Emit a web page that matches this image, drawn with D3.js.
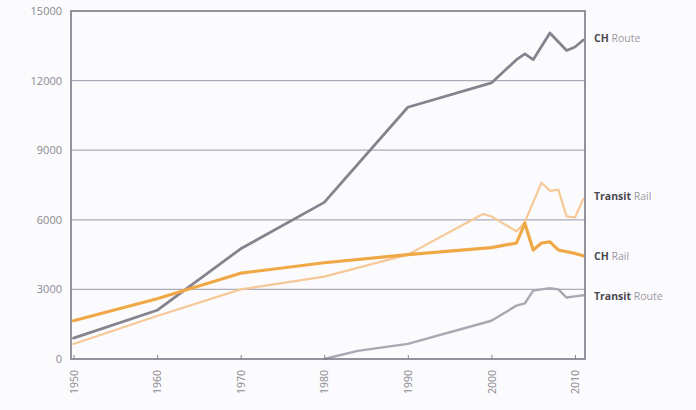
<!DOCTYPE html>
<html><head><meta charset="utf-8">
<script src="https://cdn.jsdelivr.net/npm/d3@7"></script>
<style>body{margin:0;background:#fbfbfd;}svg{display:block;}</style>
</head><body><svg id="c" width="696" height="410"></svg>
<script>
const yTicks = [0, 3000, 6000, 9000, 12000, 15000];
const xTicks = [1950, 1960, 1970, 1980, 1990, 2000, 2010];

const chRouteYears = [1950, 1960, 1970, 1980, 1990, 2000, 2003, 2004, 2005, 2007, 2009, 2010, 2011];
const chRouteVals  = [900, 2100, 4750, 6750, 10850, 11900, 12900, 13150, 12900, 14050, 13300, 13450, 13750];

const transitRouteYears = [1980, 1984, 1990, 2000, 2003, 2004, 2005, 2006, 2007, 2008, 2009, 2010, 2011];
const transitRouteVals  = [0, 350, 650, 1650, 2300, 2400, 2950, 3000, 3050, 3000, 2650, 2700, 2750];

const chRailYears = [1950, 1960, 1970, 1980, 1990, 2000, 2003, 2004, 2005, 2006, 2007, 2008, 2010, 2011];
const chRailVals  = [1650, 2600, 3700, 4150, 4500, 4800, 5000, 5850, 4700, 5000, 5050, 4700, 4550, 4450];

const transitRailYears = [1950, 1960, 1970, 1980, 1990, 1999, 2000, 2003, 2004, 2006, 2007, 2008, 2009, 2010, 2011];
const transitRailVals  = [650, 1850, 3000, 3550, 4500, 6250, 6150, 5500, 5900, 7600, 7250, 7300, 6150, 6100, 6900];

const seriesNames = [["CH", "Route"], ["Transit", "Rail"], ["CH", "Rail"], ["Transit", "Route"]];

const svg = d3.select("#c");
const L = 71, R = 585, T = 11, B = 359;
const x = d3.scaleLinear().domain([1949.7, 2011.2]).range([L, R]);
const y = d3.scaleLinear().domain([0, 15000]).range([B, T]);

// gridlines
svg.append("g").selectAll("line").data(yTicks.filter(d => d > 0 && d < 15000)).join("line")
  .attr("x1", L).attr("x2", R).attr("y1", d => y(d)).attr("y2", d => y(d))
  .attr("stroke", "#aeaab8").attr("stroke-width", 1.3);

// y axis labels
const yAxis = d3.axisLeft(y).tickValues(yTicks).tickSize(0).tickPadding(9).tickFormat(d3.format("d"));
const gy = svg.append("g").attr("transform", `translate(${L},0)`).call(yAxis);
gy.select(".domain").remove();
gy.selectAll("text").attr("fill", "#8a8790").style("font-family", "Open Sans, sans-serif").style("font-size", "11px");

// x axis
const xAxis = d3.axisBottom(x).tickValues(xTicks).tickSize(-4).tickFormat(d3.format("d")).tickPadding(0);
const gx = svg.append("g").attr("transform", `translate(0,${B})`).call(xAxis);
gx.select(".domain").remove();
gx.selectAll(".tick line").attr("stroke", "#8a8690");
gx.selectAll("text").attr("fill", "#8a8790").style("font-family", "Open Sans, sans-serif").style("font-size", "10.5px")
  .attr("transform", "rotate(-90)").attr("text-anchor", "end").attr("dy", "0.35em").attr("x", -11).attr("y", 0);

const line = d3.line().x(d => x(d[0])).y(d => y(d[1])).curve(d3.curveLinear);
const zip = (a, b) => a.map((v, i) => [v, b[i]]);

const series = [
  {d: zip(transitRailYears, transitRailVals), c: "#f6c898", w: 2.2},
  {d: zip(transitRouteYears, transitRouteVals), c: "#aaa7b2", w: 2.4},
  {d: zip(chRouteYears, chRouteVals), c: "#87838e", w: 2.8},
  {d: zip(chRailYears, chRailVals), c: "#f0a847", w: 3.2}
];
svg.append("g").selectAll("path").data(series).join("path")
  .attr("d", s => line(s.d)).attr("fill", "none")
  .attr("stroke", s => s.c).attr("stroke-width", s => s.w)
  .attr("stroke-linejoin", "round").attr("stroke-linecap", "round");

// frame
svg.append("rect").attr("x", L).attr("y", T).attr("width", R - L).attr("height", B - T)
  .attr("fill", "none").attr("stroke", "#7d7985").attr("stroke-width", 1.6);

// labels
const labelY = [38, 196, 256, 296];
const lg = svg.append("g").style("font-family", "Open Sans, sans-serif").style("font-size", "10.5px");
seriesNames.forEach((n, i) => {
  const t = lg.append("text").attr("x", 594).attr("y", labelY[i]).attr("dy", "0.35em");
  t.append("tspan").text(n[0]).attr("font-weight", "bold").attr("fill", "#4a4850");
  t.append("tspan").text(" " + n[1]).attr("fill", "#9c99a2");
});
</script></body></html>
